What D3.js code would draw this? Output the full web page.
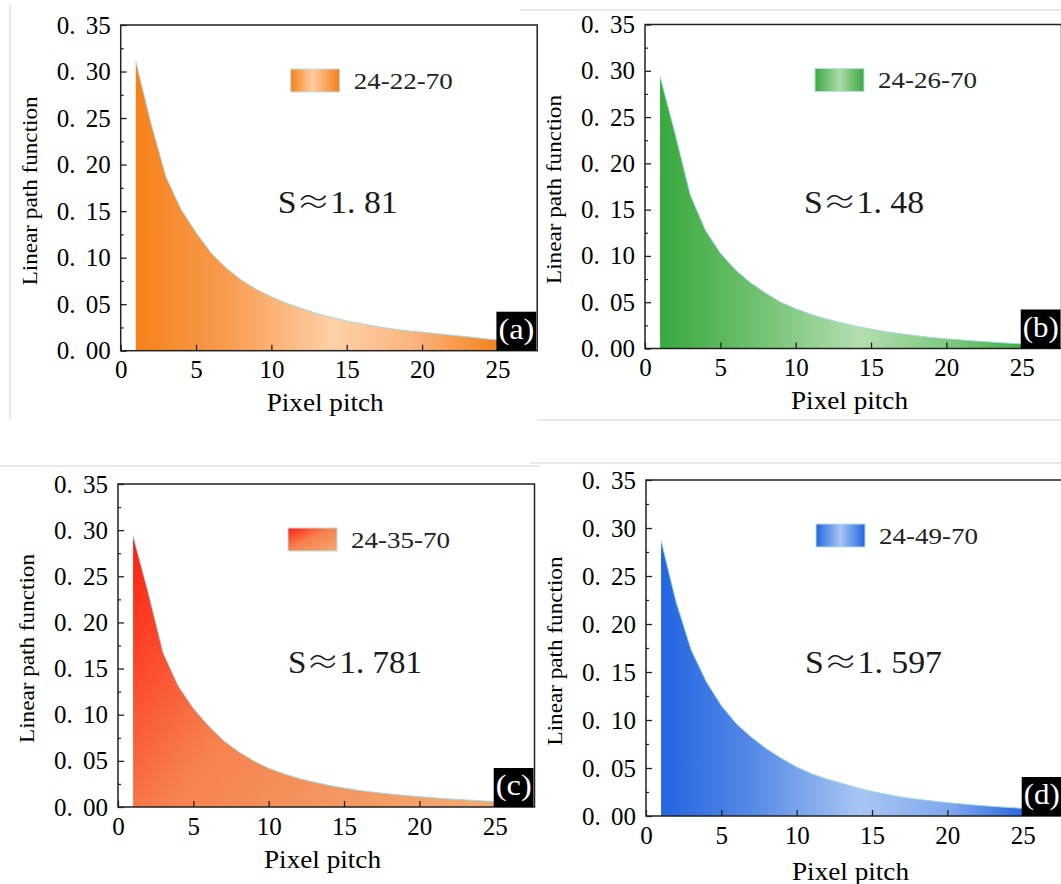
<!DOCTYPE html>
<html><head><meta charset="utf-8">
<script src="https://cdn.jsdelivr.net/npm/d3@7"></script>
<style>
html,body{margin:0;padding:0;background:#fff;}
svg{display:block;}
text{font-family:"Liberation Serif","Times New Roman",serif;}
</style></head><body>
<svg id="chart" width="1061" height="884"></svg>
<script>
// ---------------- data ----------------
const pitch = [1,2,3,4,5,6,7,8,9,10,11,12,13,14,15,16,17,18,19,20,21,22,23,24,25];
const lpfA = [0.311,0.245,0.187,0.152,0.127,0.105,0.089,0.076,0.066,0.058,0.051,0.0455,0.040,0.036,0.032,0.029,0.026,0.0235,0.0215,0.0200,0.0182,0.0166,0.0150,0.0132,0.0115];
const lpfB = [0.294,0.232,0.166,0.128,0.103,0.085,0.071,0.060,0.050,0.043,0.037,0.032,0.028,0.024,0.021,0.018,0.0158,0.0138,0.0120,0.0105,0.0092,0.0080,0.0069,0.0059,0.0050];
const lpfC = [0.294,0.233,0.167,0.131,0.107,0.088,0.072,0.060,0.050,0.042,0.036,0.031,0.027,0.0235,0.0206,0.018,0.016,0.0142,0.0126,0.0112,0.0099,0.0088,0.0078,0.0069,0.0060];
const lpfD = [0.287,0.223,0.173,0.140,0.115,0.096,0.082,0.070,0.060,0.051,0.044,0.0386,0.034,0.0295,0.0256,0.0225,0.0196,0.0175,0.0157,0.0140,0.0125,0.0112,0.0100,0.0090,0.0080];
const legendNames = ["24-22-70","24-26-70","24-35-70","24-49-70"];
const sPrefix = "S";
const sSymbol = "\u2248";
const sNumbers = ["1. 81","1. 48","1. 781","1. 597"];
const panelLabels = ["(a)","(b)","(c)","(d)"];
const xTicks = [0,5,10,15,20,25];
const xTickLabels = ["0","5","10","15","20","25"];
const yTicks = [0,0.05,0.10,0.15,0.20,0.25,0.30,0.35];
const yTickLabels = ["0. 00","0. 05","0. 10","0. 15","0. 20","0. 25","0. 30","0. 35"];
const yMinorTicks = [0.025,0.075,0.125,0.175,0.225,0.275,0.325];
const xTitle = "Pixel pitch";
const yTitle = "Linear path function";
const xDomain = [0, 27.64];
const yDomain = [0, 0.35];

// ---------------- layout ----------------
const plotW = 416.5;
const panels = [
  {key:"a", data:lpfA, left:120.7, top:25,  bottom:350.7, sx:157, sLen:120, sBase:188, xt:60},
  {key:"b", data:lpfB, left:645,   top:24.5,bottom:348.5, sx:159, sLen:120, sBase:188, xt:60},
  {key:"c", data:lpfC, left:118,   top:484, bottom:807,   sx:170, sLen:134, sBase:189, xt:61},
  {key:"d", data:lpfD, left:646,   top:480, bottom:816,   sx:159, sLen:137, sBase:193, xt:64}
];
const serif = '"Liberation Serif","Times New Roman",serif';

const svg = d3.select("#chart");
svg.append("rect").attr("width",1061).attr("height",884).attr("fill","#fff");
const defs = svg.append("defs");

// composite separator lines (screenshot edges)
const sep = [[10,4,10,420],[520,10,1061,10],[537,420,1061,420],[0,466,540,466],[530,463,1061,463]];
svg.selectAll("line.sep").data(sep).join("line").attr("class","sep")
  .attr("x1",d=>d[0]).attr("y1",d=>d[1]).attr("x2",d=>d[2]).attr("y2",d=>d[3])
  .attr("stroke","#d4d4d4").attr("stroke-width",1);

function grad(id, stops, a) {
  const g = defs.append("linearGradient").attr("id", id);
  Object.entries(a).forEach(([k,v]) => g.attr(k, v));
  stops.forEach(s => g.append("stop").attr("offset", s[0]).attr("stop-color", s[1]));
}
const fillStops = {
  a: [[0,"#f6821a"],[0.25,"#f89b50"],[0.55,"#fed1a6"],[0.78,"#fab27c"],[1,"#f5821c"]],
  b: [[0,"#38a93d"],[0.25,"#6cbf6c"],[0.55,"#b3deb0"],[0.8,"#7ec87e"],[1,"#42ae45"]],
  c: [[0,"#ff1c10"],[0.2,"#fc4a2c"],[0.42,"#f6814e"],[1,"#f3ab73"]],
  d: [[0,"#2265e2"],[0.25,"#5589e6"],[0.55,"#a8c6f2"],[0.8,"#7fa8ee"],[1,"#2b68e0"]]
};
const swStops = {
  a: [[0,"#f6831c"],[0.45,"#fdcda2"],[1,"#f57e18"]],
  b: [[0,"#3aaa3f"],[0.5,"#acdba8"],[1,"#3aaa3f"]],
  c: [[0,"#ff1e12"],[0.45,"#f6804e"],[1,"#f4aa74"]],
  d: [[0,"#2366e2"],[0.5,"#a8c6f2"],[1,"#2366e2"]]
};

panels.forEach((p, idx) => {
  const x = d3.scaleLinear().domain(xDomain).range([p.left, p.left + plotW]);
  const y = d3.scaleLinear().domain(yDomain).range([p.bottom, p.top]);
  const g = svg.append("g");

  if (p.key === "c") {
    grad("fill-c", fillStops.c, {gradientUnits:"userSpaceOnUse", x1:x(1), y1:y(0.30), x2:x(25), y2:y(0)});
    grad("sw-c", swStops.c, {x1:0, y1:0, x2:1, y2:1});
  } else {
    grad("fill-"+p.key, fillStops[p.key], {gradientUnits:"userSpaceOnUse", x1:x(1), y1:0, x2:x(25), y2:0});
    grad("sw-"+p.key, swStops[p.key], {x1:0, y1:0, x2:1, y2:0});
  }

  const pts = pitch.map((d,i) => [d, p.data[i]]);
  g.append("path").datum(pts)
    .attr("d", d3.area().x(d=>x(d[0])).y0(y(0)).y1(d=>y(d[1])))
    .attr("fill", "url(#fill-"+p.key+")");
  g.append("path").datum(pts)
    .attr("d", d3.line().x(d=>x(d[0])).y(d=>y(d[1])))
    .attr("fill","none").attr("stroke","#a3dbdb").attr("stroke-width",1);

  // axes
  const xAxis = d3.axisBottom(x).tickValues(xTicks)
    .tickFormat(d => xTickLabels[xTicks.indexOf(d)])
    .tickSizeInner(-6).tickSizeOuter(0).tickPadding(10);
  const gx = g.append("g").attr("transform",`translate(0,${p.bottom})`).call(xAxis);
  gx.select(".domain").remove();
  gx.selectAll("line").attr("stroke","#222").attr("stroke-width",1.3);
  gx.selectAll("text").attr("font-size",25).attr("fill","#000").attr("font-family",serif);

  const yAxis = d3.axisLeft(y).tickValues(yTicks)
    .tickFormat(d => yTickLabels[yTicks.indexOf(d)])
    .tickSizeInner(-6).tickSizeOuter(0).tickPadding(10);
  const gy = g.append("g").attr("transform",`translate(${p.left},0)`).call(yAxis);
  gy.select(".domain").remove();
  gy.selectAll("line").attr("stroke","#222").attr("stroke-width",1.3);
  gy.selectAll("text").attr("font-size",25).attr("fill","#000").attr("font-family",serif)
    .style("word-spacing","4px");

  const yMinor = d3.axisLeft(y).tickValues(yMinorTicks).tickFormat("")
    .tickSizeInner(-3).tickSizeOuter(0);
  const gym = g.append("g").attr("transform",`translate(${p.left},0)`).call(yMinor);
  gym.select(".domain").remove();
  gym.selectAll("line").attr("stroke","#222").attr("stroke-width",1.2);

  // frame
  g.append("rect").attr("x",p.left).attr("y",p.top).attr("width",plotW).attr("height",p.bottom-p.top)
    .attr("fill","none").attr("stroke","#222").attr("stroke-width",1.5);

  // titles
  g.append("text").attr("x", p.left + 204.5).attr("y", p.bottom + p.xt)
    .attr("text-anchor","middle").attr("font-size",25).attr("fill","#000")
    .attr("textLength",117).attr("lengthAdjust","spacingAndGlyphs").text(xTitle);
  const cy = (p.top + p.bottom)/2 + 3;
  g.append("text").attr("transform",`translate(${p.left-84},${cy}) rotate(-90)`)
    .attr("text-anchor","middle").attr("font-size",21).attr("fill","#000")
    .attr("textLength",189).attr("lengthAdjust","spacingAndGlyphs").text(yTitle);

  // legend
  const lx = p.left + 170, ly = p.top + 44;
  g.append("rect").attr("x",lx).attr("y",ly).attr("width",49).attr("height",23)
    .attr("fill","url(#sw-"+p.key+")").attr("stroke","#b9dfe2").attr("stroke-width",1);
  g.append("text").attr("x",lx+63).attr("y",ly+11.5).attr("dy","0.35em")
    .attr("font-size",23).attr("fill","#222")
    .attr("textLength",99).attr("lengthAdjust","spacingAndGlyphs").text(legendNames[idx]);

  // annotation
  const t = g.append("text").attr("x",p.left + p.sx).attr("y",p.top + p.sBase)
    .attr("font-size",31).attr("fill","#1a1a1a")
    .attr("textLength",p.sLen).attr("lengthAdjust","spacingAndGlyphs");
  t.append("tspan").text(sPrefix);
  t.append("tspan").attr("font-family",'"Noto Sans CJK SC","DejaVu Sans",sans-serif')
    .attr("font-weight",300).text(sSymbol);
  t.append("tspan").text(sNumbers[idx]);

  // panel label
  const bx = x(25) - 1, bw = (p.left + plotW) - 1 - bx, bh = 39;
  g.append("rect").attr("x",bx).attr("y",p.bottom - bh).attr("width",bw).attr("height",bh).attr("fill","#000");
  g.append("text").attr("x", bx + 20).attr("y", p.bottom - 12)
    .attr("text-anchor","middle").attr("font-size",30).attr("fill","#fff")
    .attr("textLength",36).attr("lengthAdjust","spacingAndGlyphs").text(panelLabels[idx]);
});
</script>
</body></html>
